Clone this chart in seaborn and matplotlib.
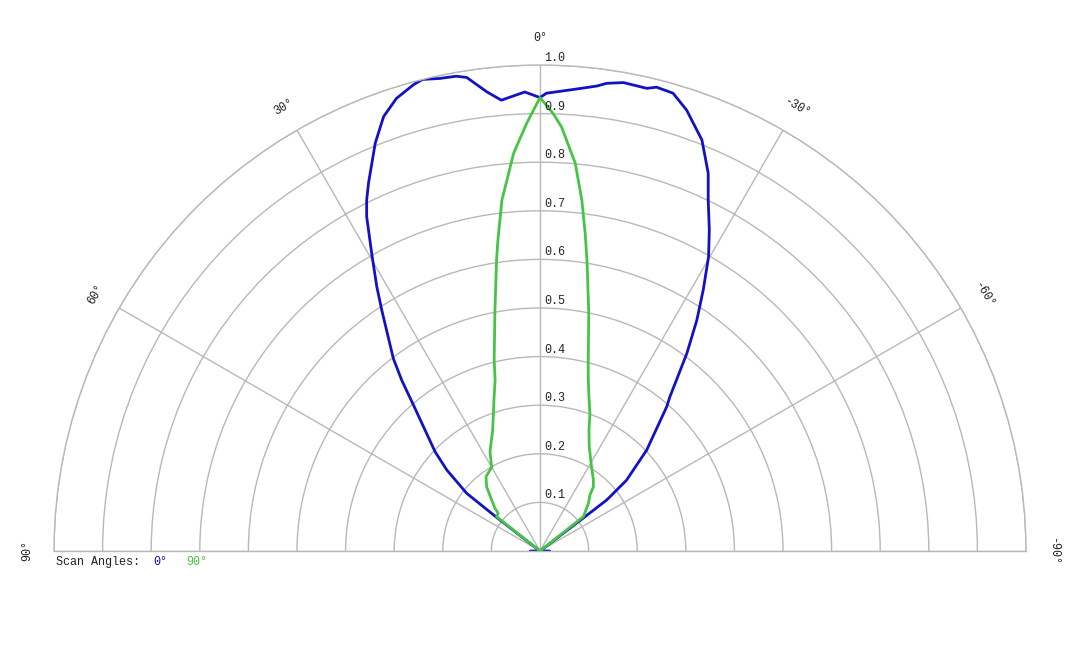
import matplotlib
matplotlib.use("Agg")
import matplotlib.pyplot as plt
import matplotlib.transforms as mtransforms
import numpy as np
import pandas as pd
import seaborn as sns

# Scan 0 deg (blue) - angle in degrees (positive = left), relative intensity
scan0_angles = [-90, -85, -70, -60, -53.5, -52.7, -52.6, -50.7, -46.6, -41.3, -40.1, -38.6,
                -36.6, -34.2, -32.0, -29.8, -27.8, -25.6, -24.0, -21.5, -18.4, -16.2,
                -14.1, -13.0, -10.1, -8.1, -7.0, -4.1, -0.8, 0.0, 1.9, 2.9, 4.9, 6.6,
                8.8, 10.0, 12.0, 14.0, 15.2, 17.6, 19.8, 22.0, 25.0, 26.3, 27.4, 29.6,
                31.7, 33.3, 37.3, 39.0, 40.9, 46.6, 49.0, 51.8, 52.2, 53.0, 60, 70, 85, 90]
scan0_values = [0.02, 0.0, 0.0, 0.0, 0.0, 0.116, 0.173, 0.230, 0.302, 0.395, 0.415, 0.450,
                0.507, 0.574, 0.634, 0.698, 0.747, 0.801, 0.851, 0.909, 0.956, 0.981,
                0.984, 0.977, 0.979, 0.972, 0.964, 0.952, 0.942, 0.933, 0.945, 0.940, 0.931, 0.951,
                0.986, 0.992, 0.994, 1.000, 0.994, 0.977, 0.950, 0.905, 0.835, 0.805, 0.775, 0.700,
                0.639, 0.593, 0.498, 0.452, 0.398, 0.297, 0.254, 0.192, 0.117, 0.0, 0.0, 0.0, 0.0, 0.02]

# Scan 90 deg (green)
scan90_angles = [-90, -70, -53.0, -51.6, -45.4, -41.8, -39.7, -36.9, -31.5, -25.3, -22.0,
                 -19.95, -17.8, -15.8, -14.4, -11.6, -9.3, -8.1, -6.8, -5.2, -2.9, -1.7,
                 0.0, 1.8, 3.8, 5.1, 6.2, 7.7, 8.5, 10.6, 13.5, 14.7, 16.7, 18.7, 21.4,
                 26.7, 30.0, 36.0, 39.7, 42.6, 46.5, 47.9, 51.6, 53.0, 70, 90]
scan90_values = [0.0, 0.0, 0.0, 0.114, 0.140, 0.154, 0.172, 0.183, 0.203, 0.237, 0.269,
                 0.301, 0.330, 0.365, 0.399, 0.499, 0.600, 0.660, 0.727, 0.801, 0.874, 0.901,
                 0.933, 0.880, 0.820, 0.766, 0.726, 0.646, 0.605, 0.504, 0.404, 0.364, 0.329, 0.299, 0.267,
                 0.229, 0.199, 0.189, 0.172, 0.150, 0.128, 0.116, 0.114, 0.0, 0.0, 0.0]

ring_values = [0.1, 0.2, 0.3, 0.4, 0.5, 0.6, 0.7, 0.8, 0.9, 1.0]
spoke_angles = [-90, -60, -30, 0, 30, 60, 90]

BLUE = "#1212c4"
GREEN = "#46c446"
GRID = "#b8b8b8"

sns.set_theme(style="white")
plt.rcParams["font.family"] = ["Liberation Mono", "DejaVu Sans Mono"]

df = pd.concat([
    pd.DataFrame({"theta": np.radians(scan0_angles), "r": scan0_values, "scan": "0°"}),
    pd.DataFrame({"theta": np.radians(scan90_angles), "r": scan90_values, "scan": "90°"}),
])

fig = plt.figure(figsize=(10.8, 6.48), dpi=100)
# half-disk is centred inside a square box: centre at (540, 551) px, radius 486 px
ax = fig.add_axes([54 / 1080, -146 / 648, 972 / 1080, 972 / 648], projection="polar")
ax.set_theta_zero_location("N")
ax.set_thetamin(-90)
ax.set_thetamax(90)

sns.lineplot(data=df, x="theta", y="r", hue="scan", palette={"0°": BLUE, "90°": GREEN},
             sort=False, estimator=None, linewidth=2, legend=False, ax=ax)

ax.set_ylim(0, 1.0)
ax.set_yticks(ring_values)
ax.set_yticklabels([])
ax.set_xticks(np.radians(spoke_angles))
ax.set_xticklabels([])
ax.set_xlabel("")
ax.set_ylabel("")
ax.grid(True, color=GRID, linewidth=1)
for sp in ax.spines.values():
    sp.set_color(GRID)
    sp.set_linewidth(1)
ax.tick_params(length=0)

# radial labels along the 0 deg spoke
off = mtransforms.offset_copy(ax.transData, fig=fig, x=4, y=1, units="dots")
for rv in ring_values:
    ax.text(0, rv, f"{rv:.1f}", transform=off, ha="left", va="bottom",
            fontsize=8.5, color="#222222")

# angle labels outside the arc
for a in spoke_angles:
    ax.text(np.radians(a), 1.055, f"{a}°", ha="center", va="center",
            rotation=a, rotation_mode="anchor", fontsize=8.5, color="#222222")

fig.text(56 / 1080, 1 - 562 / 648, "Scan Angles:", ha="left", va="center",
         fontsize=8.5, color="#222222")
fig.text(153 / 1080, 1 - 562 / 648, "0°", ha="left", va="center", fontsize=8.5, color=BLUE)
fig.text(186 / 1080, 1 - 562 / 648, "90°", ha="left", va="center", fontsize=8.5, color=GREEN)

fig.savefig("out.png", dpi=100)
